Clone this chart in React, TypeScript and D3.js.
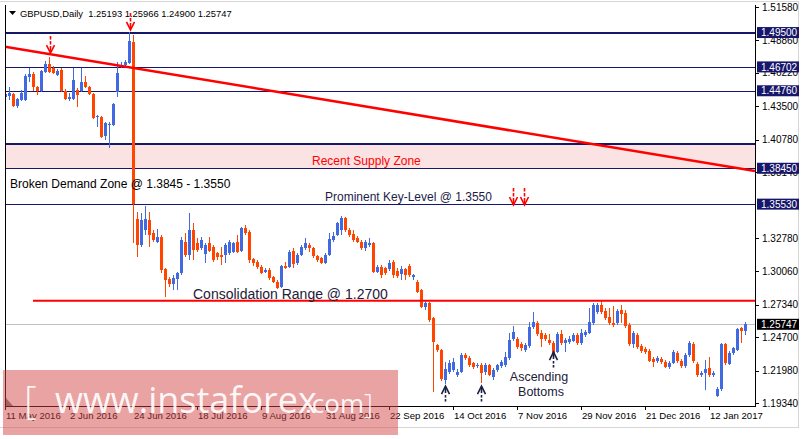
import React from 'react';
import * as d3 from 'd3';

// ---------- DATA (GBPUSD Daily) ----------
const opens = [
  1.4425,1.4433,1.4449,1.4352,1.4401,1.4401,1.4588,1.4612,1.4507,1.4474,
  1.4629,1.4694,1.4661,1.4604,1.4645,1.4474,1.4409,1.4409,1.4482,1.4474,
  1.4547,1.4507,1.4449,1.4262,1.4262,1.4108,1.4197,1.4197,1.4466,1.4669,
  1.4686,1.4702,1.4873,1.3432,1.3220,1.3342,1.3424,1.3318,1.3245,1.3285,
  1.3024,1.2943,1.2902,1.2943,1.2992,1.3245,1.3138,1.3342,1.3237,1.3196,
  1.3147,1.3237,1.3204,1.3155,1.3138,1.3138,1.3155,1.3163,1.3245,1.3171,
  1.3359,1.3326,1.3106,1.3081,1.3041,1.3000,1.3016,1.2959,1.2918,1.2878,
  1.3049,1.3041,1.3171,1.3074,1.3138,1.3196,1.3220,1.3196,1.3130,1.3114,
  1.3074,1.3138,1.3261,1.3301,1.3342,1.3440,1.3342,1.3310,1.3277,1.3245,
  1.3196,1.3220,1.3237,1.3000,1.3041,1.3033,1.3024,1.3081,1.3008,1.2984,
  1.3024,1.3049,1.2959,1.2918,1.2853,1.2715,1.2748,1.2626,1.2405,1.2365,
  1.2121,1.2186,1.2202,1.2161,1.2186,1.2324,1.2300,1.2259,1.2234,1.2243,
  1.2186,1.2243,1.2145,1.2202,1.2234,1.2243,1.2300,1.2454,1.2454,1.2413,
  1.2365,1.2397,1.2552,1.2585,1.2503,1.2487,1.2446,1.2422,1.2348,1.2495,
  1.2422,1.2430,1.2438,1.2487,1.2422,1.2487,1.2503,1.2585,1.2674,1.2731,
  1.2683,1.2634,1.2585,1.2585,1.2691,1.2666,1.2568,1.2413,1.2487,1.2397,
  1.2373,1.2356,1.2291,1.2275,1.2291,1.2267,1.2226,1.2259,1.2340,1.2275,
  1.2234,1.2324,1.2413,1.2251,1.2161,1.2178,1.2218,1.2161,1.1990,1.2047,
  1.2413,1.2251,1.2340,1.2365,1.2544,1.2519,
];
const highs = [
  1.4499,1.4507,1.4458,1.4417,1.4482,1.4612,1.4661,1.4629,1.4515,1.4645,
  1.4718,1.4751,1.4678,1.4653,1.4661,1.4490,1.4458,1.4661,1.4499,1.4661,
  1.4596,1.4515,1.4458,1.4279,1.4270,1.4222,1.4222,1.4376,1.4710,1.4710,
  1.4726,1.4954,1.4930,1.3489,1.3481,1.3537,1.3489,1.3342,1.3350,1.3301,
  1.3033,1.2959,1.2976,1.3000,1.3285,1.3318,1.3481,1.3400,1.3277,1.3285,
  1.3237,1.3285,1.3220,1.3163,1.3204,1.3237,1.3261,1.3245,1.3301,1.3367,
  1.3383,1.3342,1.3114,1.3098,1.3057,1.3033,1.3033,1.2967,1.2935,1.3057,
  1.3081,1.3179,1.3196,1.3155,1.3220,1.3277,1.3237,1.3204,1.3138,1.3122,
  1.3155,1.3318,1.3326,1.3408,1.3457,1.3448,1.3359,1.3342,1.3293,1.3261,
  1.3261,1.3277,1.3245,1.3057,1.3057,1.3041,1.3098,1.3098,1.3033,1.3049,
  1.3033,1.3065,1.2984,1.2935,1.2861,1.2764,1.2756,1.2634,1.2413,1.2373,
  1.2267,1.2283,1.2300,1.2210,1.2340,1.2340,1.2316,1.2267,1.2259,1.2259,
  1.2259,1.2251,1.2218,1.2251,1.2283,1.2348,1.2503,1.2560,1.2471,1.2430,
  1.2422,1.2593,1.2674,1.2601,1.2528,1.2503,1.2495,1.2438,1.2511,1.2528,
  1.2462,1.2479,1.2503,1.2503,1.2536,1.2528,1.2707,1.2748,1.2748,1.2764,
  1.2707,1.2707,1.2723,1.2699,1.2731,1.2691,1.2585,1.2519,1.2503,1.2413,
  1.2389,1.2373,1.2308,1.2316,1.2308,1.2283,1.2275,1.2365,1.2356,1.2291,
  1.2340,1.2438,1.2430,1.2267,1.2194,1.2283,1.2308,1.2194,1.2063,1.2422,
  1.2422,1.2356,1.2389,1.2544,1.2552,1.2597,
];
const lows = [
  1.4401,1.4401,1.4344,1.4336,1.4393,1.4393,1.4547,1.4474,1.4442,1.4466,
  1.4621,1.4621,1.4612,1.4596,1.4466,1.4401,1.4393,1.4401,1.4344,1.4466,
  1.4499,1.4442,1.4246,1.4181,1.4091,1.4075,1.4010,1.4189,1.4425,1.4661,
  1.4669,1.4694,1.3237,1.3122,1.3204,1.3301,1.3204,1.3245,1.3237,1.2992,
  1.2796,1.2878,1.2853,1.2853,1.2976,1.3122,1.3098,1.3098,1.3163,1.3179,
  1.3074,1.3163,1.3081,1.3098,1.3057,1.3074,1.3138,1.3155,1.3155,1.3163,
  1.3301,1.3074,1.3049,1.3024,1.2984,1.2992,1.2935,1.2910,1.2861,1.2869,
  1.3024,1.3033,1.3033,1.3057,1.3130,1.3179,1.3163,1.3114,1.3081,1.3065,
  1.3065,1.3130,1.3245,1.3293,1.3301,1.3326,1.3285,1.3245,1.3237,1.3179,
  1.3171,1.3204,1.2992,1.2992,1.2951,1.2976,1.3008,1.2951,1.2951,1.2935,
  1.2935,1.2959,1.2935,1.2829,1.2707,1.2691,1.2593,1.2023,1.2348,1.2113,
  1.2088,1.2170,1.2186,1.2145,1.2178,1.2283,1.2226,1.2210,1.2218,1.2096,
  1.2161,1.2153,1.2121,1.2186,1.2218,1.2226,1.2283,1.2438,1.2373,1.2356,
  1.2348,1.2381,1.2536,1.2479,1.2389,1.2438,1.2405,1.2324,1.2340,1.2405,
  1.2348,1.2413,1.2430,1.2405,1.2405,1.2470,1.2495,1.2568,1.2658,1.2658,
  1.2609,1.2568,1.2552,1.2568,1.2585,1.2544,1.2397,1.2381,1.2373,1.2340,
  1.2332,1.2267,1.2226,1.2259,1.2251,1.2218,1.2210,1.2251,1.2259,1.2218,
  1.2218,1.2308,1.2259,1.2145,1.2145,1.2039,1.2145,1.2145,1.1982,1.2031,
  1.2243,1.2243,1.2324,1.2356,1.2422,1.2490,
];
const closes = [
  1.4449,1.4458,1.4352,1.4409,1.4458,1.4596,1.4612,1.4507,1.4474,1.4637,
  1.4694,1.4629,1.4621,1.4637,1.4474,1.4409,1.4425,1.4564,1.4441,1.4547,
  1.4507,1.4449,1.4254,1.4270,1.4099,1.4213,1.4205,1.4368,1.4620,1.4686,
  1.4710,1.4881,1.3553,1.3220,1.3424,1.3432,1.3301,1.3261,1.3285,1.3016,
  1.2935,1.2902,1.2951,1.2992,1.3261,1.3138,1.3342,1.3179,1.3179,1.3261,
  1.3220,1.3171,1.3098,1.3122,1.3122,1.3220,1.3245,1.3237,1.3163,1.3359,
  1.3318,1.3098,1.3074,1.3041,1.2992,1.3016,1.2951,1.2918,1.2869,1.3049,
  1.3033,1.3163,1.3065,1.3138,1.3204,1.3237,1.3196,1.3130,1.3098,1.3074,
  1.3138,1.3269,1.3293,1.3400,1.3440,1.3342,1.3301,1.3261,1.3245,1.3196,
  1.3245,1.3237,1.3000,1.3041,1.2976,1.2992,1.3074,1.2976,1.2967,1.3024,
  1.2976,1.2976,1.2976,1.2837,1.2715,1.2748,1.2609,1.2430,1.2365,1.2129,
  1.2210,1.2259,1.2267,1.2186,1.2324,1.2300,1.2243,1.2226,1.2243,1.2178,
  1.2243,1.2161,1.2202,1.2243,1.2267,1.2308,1.2446,1.2511,1.2389,1.2381,
  1.2405,1.2552,1.2593,1.2495,1.2454,1.2454,1.2422,1.2340,1.2495,1.2422,
  1.2446,1.2454,1.2487,1.2422,1.2503,1.2511,1.2593,1.2731,1.2731,1.2674,
  1.2626,1.2585,1.2568,1.2683,1.2658,1.2560,1.2413,1.2503,1.2389,1.2356,
  1.2348,1.2275,1.2267,1.2300,1.2267,1.2226,1.2259,1.2348,1.2275,1.2234,
  1.2324,1.2422,1.2275,1.2161,1.2178,1.2210,1.2161,1.2178,1.2047,1.2413,
  1.2259,1.2340,1.2381,1.2536,1.2519,1.2575,
];

const dateTickIndex = [0, 16, 32, 48, 64, 80, 96, 112, 128, 144, 160, 176];
const dateTickLabels = ['11 May 2016', '2 Jun 2016', '24 Jun 2016', '18 Jul 2016', '9 Aug 2016', '31 Aug 2016',
  '22 Sep 2016', '14 Oct 2016', '7 Nov 2016', '29 Nov 2016', '21 Dec 2016', '12 Jan 2017'];
const priceTicks = [1.5158, 1.4886, 1.4622, 1.4350, 1.4078, 1.3814, 1.3278, 1.3006, 1.2734, 1.2470, 1.2198, 1.1934];
const levelPrices = [1.4950, 1.46702, 1.4476, 1.3845, 1.3553];
const levelLabels = ['1.49500', '1.46702', '1.44760', '1.38450', '1.35530'];
const supplyZone = [1.4043, 1.3845];
const trendIndex = [0, 187.5];
const trendPrice = [1.4835, 1.3823];
const consolidationStart = 7;
const consolidationPrice = 1.2767;
const lastPrice = 1.25747;
const lastPriceLabel = '1.25747';
const headerText = 'GBPUSD,Daily  1.25193 1.25966 1.24900 1.25747';
const sellArrowIndex = [11.25, 31.25, 127, 129.75];
const sellArrowPrice = [1.4783, 1.4971, 1.3546, 1.3546];
const buyArrowIndex = [110, 119, 137];
const buyArrowPrice = [1.2072, 1.2072, 1.2349];

// ---------- LAYOUT / STYLE ----------
const W = 805, H = 439;
const L = 5, R = 755, T = 5, B = 406;
const BULL = '#4169e1';
const BEAR = '#ff4500';
const NAVY = '#16166a';
const FONT = "'Liberation Sans', Arial, sans-serif";
const levelWidth = [2, 1, 1, 1, 1];

export default function App() {
  const x = d3.scaleLinear().domain([0, 187.5]).range([L, R]);
  const y = d3.scaleLinear().domain([1.1934, 1.5158]).range([403, 7]);
  const n = closes.length;
  const candles = d3.range(n).map((i) => ({
    i, o: opens[i], h: highs[i], l: lows[i], c: closes[i],
  }));
  const trend = d3.line<number>()
    .x((d) => x(trendIndex[d]))
    .y((d) => y(trendPrice[d]));

  const downArrow = (cx: number, ty: number, k: number) => (
    <g key={'d' + k} stroke="#ff0000" strokeWidth={1.6} fill="none">
      <line x1={cx} y1={ty - 17} x2={cx} y2={ty - 13.5} />
      <line x1={cx} y1={ty - 12} x2={cx} y2={ty - 8.5} />
      <polyline points={`${cx - 4},${ty - 8} ${cx},${ty} ${cx + 4},${ty - 8}`} />
      <line x1={cx} y1={ty - 7} x2={cx} y2={ty - 2} />
    </g>
  );
  const upArrow = (cx: number, ty: number, k: number) => (
    <g key={'u' + k} stroke="#1a2040" strokeWidth={1.6} fill="none">
      <polyline points={`${cx - 4},${ty + 8} ${cx},${ty} ${cx + 4},${ty + 8}`} />
      <line x1={cx} y1={ty + 2} x2={cx} y2={ty + 7} />
      <line x1={cx} y1={ty + 9} x2={cx} y2={ty + 11.5} />
      <line x1={cx} y1={ty + 13} x2={cx} y2={ty + 15.5} />
    </g>
  );

  return (
    <svg width={W} height={H} style={{ position: 'absolute', left: 0, top: 0, background: '#fff' }}
      fontFamily={FONT}>
      <defs>
        <clipPath id="plot"><rect x={L} y={T} width={R - L} height={B - T} /></clipPath>
      </defs>
      <rect x={0} y={0} width={W} height={H} fill="#fff" />
      {/* outer frame */}
      <line x1={0} y1={1.5} x2={798} y2={1.5} stroke="#d6d6d6" />
      <line x1={798.5} y1={1} x2={798.5} y2={427} stroke="#d6d6d6" />
      <line x1={0} y1={427.5} x2={799} y2={427.5} stroke="#d6d6d6" />

      <g clipPath="url(#plot)">
        {/* supply zone */}
        <rect x={L} width={R - L} y={y(supplyZone[0])} height={y(supplyZone[1]) - y(supplyZone[0])} fill="#fbe3e3" />
        <line x1={L} x2={R} y1={y(supplyZone[0])} y2={y(supplyZone[0])} stroke={NAVY} strokeWidth={2} />
        {levelPrices.map((p, k) => (
          <line key={k} x1={L} x2={R} y1={Math.round(y(p)) + (levelWidth[k] === 1 ? 0.5 : 0)}
            y2={Math.round(y(p)) + (levelWidth[k] === 1 ? 0.5 : 0)} stroke={NAVY} strokeWidth={levelWidth[k]} />
        ))}
        {/* current price */}
        <line x1={L} x2={R} y1={Math.round(y(lastPrice)) + 0.5} y2={Math.round(y(lastPrice)) + 0.5} stroke="#c0c0c0" />
        {/* candles */}
        {candles.map((d) => {
          const cx = Math.round(x(d.i));
          const col = d.c >= d.o ? BULL : BEAR;
          const yo = y(d.o), yc = y(d.c);
          const top = Math.round(Math.min(yo, yc));
          const hgt = Math.max(1, Math.round(Math.abs(yo - yc)));
          return (
            <g key={d.i} fill={col} shapeRendering="crispEdges">
              <rect x={cx} width={1} y={Math.round(y(d.h))} height={Math.max(1, Math.round(y(d.l) - y(d.h)))} />
              <rect x={cx - 1} width={3} y={top} height={hgt} />
            </g>
          );
        })}
        {/* trend line */}
        <path d={trend([0, 1]) || ''} stroke="#ff0000" strokeWidth={2.5} fill="none" />
        {/* consolidation line */}
        <line x1={x(consolidationStart)} x2={R} y1={y(consolidationPrice)} y2={y(consolidationPrice)} stroke="#ff0000" strokeWidth={2} />
      </g>

      {/* frame */}
      <line x1={L + 0.5} x2={L + 0.5} y1={T} y2={B} stroke="#000" />
      <line x1={R + 0.5} x2={R + 0.5} y1={T} y2={B + 1} stroke="#000" />
      <line x1={L} x2={R + 1} y1={B + 0.5} y2={B + 0.5} stroke="#000" />

      {/* header */}
      <path d="M9,11 L16,11 L12.5,15 Z" fill="#000" />
      <text x={20} y={17} fontSize={9.4} fill="#000" style={{ whiteSpace: 'pre' }}>{headerText}</text>

      {/* y axis */}
      {priceTicks.map((p, k) => (
        <g key={k}>
          <line x1={R} x2={R + 4} y1={Math.round(y(p)) + 0.5} y2={Math.round(y(p)) + 0.5} stroke="#000" />
          <text x={762} y={y(p) + 3.6} fontSize={10} fill="#000">{p.toFixed(5)}</text>
        </g>
      ))}
      {levelPrices.map((p, k) => (
        <g key={k}>
          <rect x={757} y={y(p) - 5.5} width={42} height={11} fill={NAVY} />
          <text x={761} y={y(p) + 3.6} fontSize={10} fill="#fff">{levelLabels[k]}</text>
        </g>
      ))}
      <rect x={757} y={y(lastPrice) - 5.5} width={42} height={11} fill="#000" />
      <text x={761} y={y(lastPrice) + 3.6} fontSize={10} fill="#fff">{lastPriceLabel}</text>

      {/* x axis */}
      {dateTickIndex.map((t, k) => (
        <g key={k}>
          <line x1={Math.round(x(t)) + 0.5} x2={Math.round(x(t)) + 0.5} y1={B} y2={B + 4} stroke="#000" />
          <text x={Math.round(x(t)) + 1} y={419} fontSize={9.6} fill="#000">{dateTickLabels[k]}</text>
        </g>
      ))}

      {/* annotations */}
      <text x={312} y={165} fontSize={12} fill="#ff0000">Recent Supply Zone</text>
      <text x={10} y={188} fontSize={12} fill="#000">Broken Demand Zone @ 1.3845 - 1.3550</text>
      <text x={325} y={201} fontSize={12} fill="#1c1c48">Prominent Key-Level @ 1.3550</text>
      <text x={193} y={299} fontSize={14} fill="#1c2038">Consolidation Range @ 1.2700</text>
      <text x={539} y={381} fontSize={12.5} fill="#1c2038" textAnchor="middle">Ascending</text>
      <text x={541} y={396} fontSize={12.5} fill="#1c2038" textAnchor="middle">Bottoms</text>
      {sellArrowIndex.map((t, k) => downArrow(Math.round(x(t)) + 0.5, y(sellArrowPrice[k]), k))}
      {buyArrowIndex.map((t, k) => upArrow(Math.round(x(t)) + 0.5, y(buyArrowPrice[k]), k))}

      {/* chart shift marker */}
      <path d="M6,398 L6,406 L13,406 Z" fill="#808080" />

      {/* watermark */}
      <rect x={3} y={370} width={395} height={65} fill="rgb(210,67,67)" fillOpacity={0.49} />
      <g fill="#fff" fillOpacity={0.92} fontFamily="'Open Sans', 'Liberation Sans', sans-serif">
        <text x={24} y={414} fontSize={39} fontWeight={300}>[</text>
        <text x={55} y={413} fontSize={36}>www.instaforex</text>
        <text x={305} y={413} fontSize={26}>.com</text>
        <text x={364} y={414} fontSize={28} fontWeight={300}>]</text>
      </g>
    </svg>
  );
}
